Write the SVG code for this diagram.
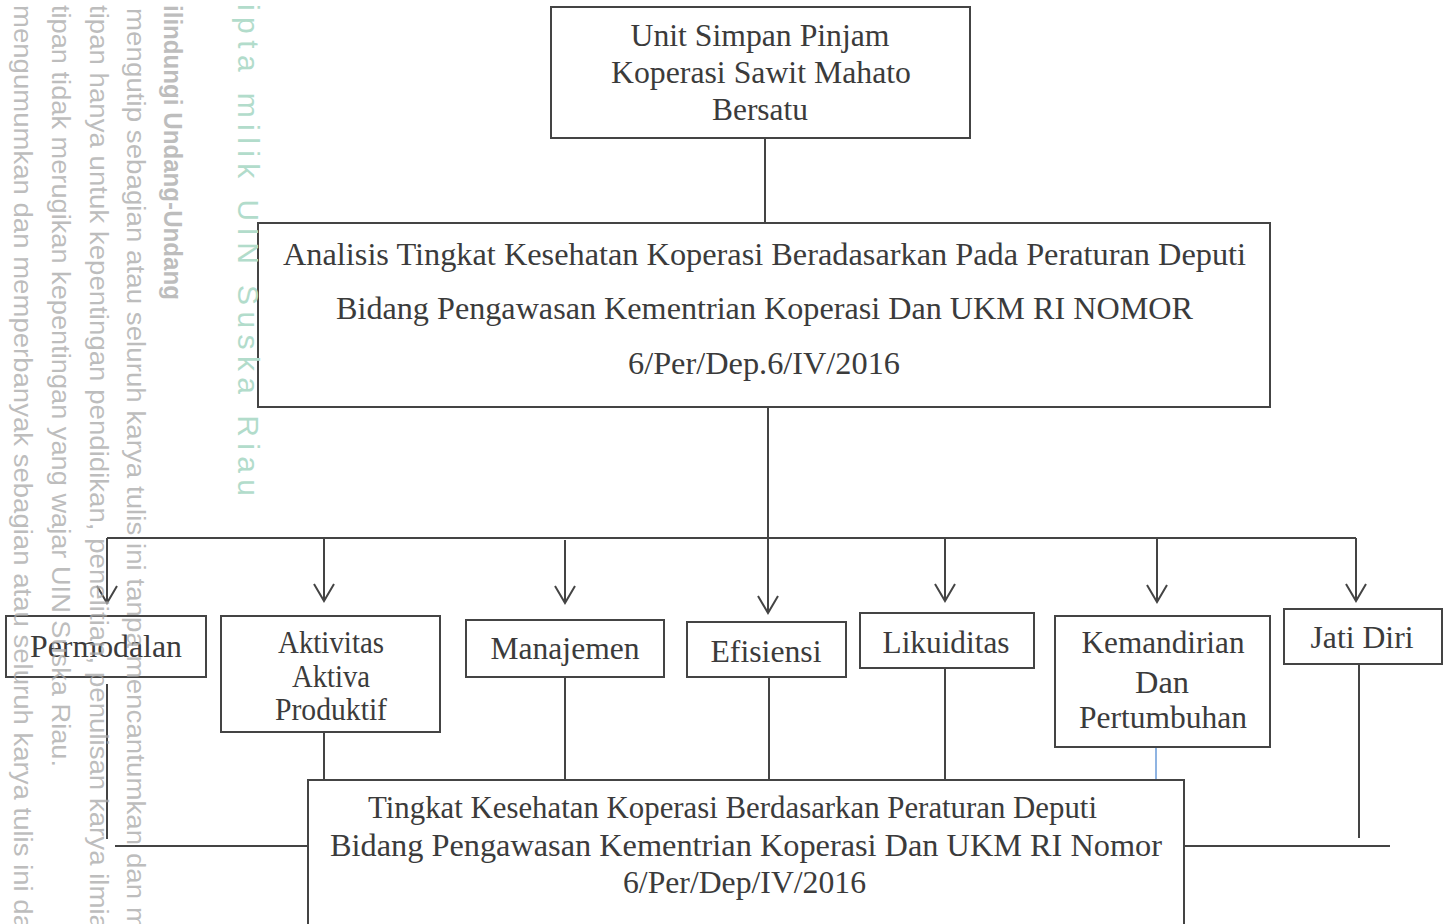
<svg xmlns="http://www.w3.org/2000/svg" width="1450" height="924" viewBox="0 0 1450 924">
<defs>
<style>
.box{fill:#ffffff;stroke:#444444;stroke-width:2}
.t{font-family:"Liberation Serif","Times New Roman",serif;font-size:31px;fill:#3b3b3b;text-anchor:middle}
.ln{fill:none;stroke:#444444;stroke-width:2}
.wm{font-family:"Liberation Sans",Arial,sans-serif;font-size:25px;fill:#a8a8a8;fill-opacity:0.75}
.wg{font-family:"Liberation Sans",Arial,sans-serif;font-size:30px;fill:#b2dccb;letter-spacing:6.4px}
</style>
<marker id="v" markerUnits="userSpaceOnUse" markerWidth="30" markerHeight="30" viewBox="-20 -15 30 30" refX="0" refY="0" orient="auto" overflow="visible">
<path d="M-17,-10 L0,0 L-17,10" fill="none" stroke="#444444" stroke-width="2"/>
</marker>
</defs>
<rect x="0" y="0" width="1450" height="924" fill="#ffffff"/>
<g id="connectors">
<path class="ln" d="M765,138 V223"/>
<path class="ln" d="M768,407 V613" marker-end="url(#v)"/>
<path class="ln" d="M107,538 H1356"/>
<path class="ln" d="M107,538 V603" marker-end="url(#v)"/>
<path class="ln" d="M324,538 V601" marker-end="url(#v)"/>
<path class="ln" d="M565,540 V603" marker-end="url(#v)"/>
<path class="ln" d="M945,538 V601" marker-end="url(#v)"/>
<path class="ln" d="M1157,538 V602" marker-end="url(#v)"/>
<path class="ln" d="M1356,538 V601" marker-end="url(#v)"/>
<path class="ln" d="M107,684 V839"/>
<path class="ln" d="M115,846 H308"/>
<path class="ln" d="M324,732 V780"/>
<path class="ln" d="M565,677 V780"/>
<path class="ln" d="M769,677 V780"/>
<path class="ln" d="M945,668 V780"/>
<path d="M1156,748 V780" fill="none" stroke="#6a9bd8" stroke-width="1.5"/>
<path class="ln" d="M1359,664 V838"/>
<path class="ln" d="M1184,846 H1390"/>
</g>
<g id="node-usp">
<rect class="box" x="551" y="7" width="419" height="131"/>
<text class="t" x="760" y="46" textLength="259" lengthAdjust="spacingAndGlyphs">Unit Simpan Pinjam</text>
<text class="t" x="761" y="83" textLength="300" lengthAdjust="spacingAndGlyphs">Koperasi Sawit Mahato</text>
<text class="t" x="760" y="120" textLength="96" lengthAdjust="spacingAndGlyphs">Bersatu</text>
</g>
<g id="node-analisis">
<rect class="box" x="258" y="223" width="1012" height="184"/>
<text class="t" x="764.5" y="265" textLength="963" lengthAdjust="spacingAndGlyphs">Analisis Tingkat Kesehatan Koperasi Beradasarkan Pada Peraturan Deputi</text>
<text class="t" x="764.5" y="319" textLength="857" lengthAdjust="spacingAndGlyphs">Bidang Pengawasan Kementrian Koperasi Dan UKM RI NOMOR</text>
<text class="t" x="764" y="374" textLength="272" lengthAdjust="spacingAndGlyphs">6/Per/Dep.6/IV/2016</text>
</g>
<g id="node-permodalan">
<rect class="box" x="6" y="616" width="200" height="61"/>
<text class="t" x="106" y="657" textLength="152" lengthAdjust="spacingAndGlyphs">Permodalan</text>
</g>
<g id="node-aktivitas">
<rect class="box" x="221" y="616" width="219" height="116"/>
<text class="t" x="331" y="653" textLength="106" lengthAdjust="spacingAndGlyphs">Aktivitas</text>
<text class="t" x="331" y="687" textLength="78" lengthAdjust="spacingAndGlyphs">Aktiva</text>
<text class="t" x="331" y="720" textLength="112" lengthAdjust="spacingAndGlyphs">Produktif</text>
</g>
<g id="node-manajemen">
<rect class="box" x="466" y="620" width="198" height="57"/>
<text class="t" x="565" y="659" textLength="149" lengthAdjust="spacingAndGlyphs">Manajemen</text>
</g>
<g id="node-efisiensi">
<rect class="box" x="687" y="622" width="159" height="55"/>
<text class="t" x="766" y="662" textLength="111" lengthAdjust="spacingAndGlyphs">Efisiensi</text>
</g>
<g id="node-likuiditas">
<rect class="box" x="860" y="613" width="174" height="55"/>
<text class="t" x="946" y="653" textLength="127" lengthAdjust="spacingAndGlyphs">Likuiditas</text>
</g>
<g id="node-kemandirian">
<rect class="box" x="1055" y="616" width="215" height="131"/>
<text class="t" x="1163" y="653" textLength="163" lengthAdjust="spacingAndGlyphs">Kemandirian</text>
<text class="t" x="1162" y="693" textLength="54" lengthAdjust="spacingAndGlyphs">Dan</text>
<text class="t" x="1163" y="728" textLength="168" lengthAdjust="spacingAndGlyphs">Pertumbuhan</text>
</g>
<g id="node-jatidiri">
<rect class="box" x="1284" y="609" width="158" height="55"/>
<text class="t" x="1362" y="648" textLength="103" lengthAdjust="spacingAndGlyphs">Jati Diri</text>
</g>
<g id="node-tingkat">
<rect class="box" x="308" y="780" width="876" height="170"/>
<text class="t" x="732.5" y="818" textLength="729" lengthAdjust="spacingAndGlyphs">Tingkat Kesehatan Koperasi Berdasarkan Peraturan Deputi</text>
<text class="t" x="746" y="856" textLength="832" lengthAdjust="spacingAndGlyphs">Bidang Pengawasan Kementrian Koperasi Dan UKM RI  Nomor</text>
<text class="t" x="744.5" y="893" textLength="243" lengthAdjust="spacingAndGlyphs">6/Per/Dep/IV/2016</text>
</g>
<g id="watermark">
<text class="wm" transform="translate(14,5) rotate(90)" textLength="925" lengthAdjust="spacingAndGlyphs">mengumumkan dan memperbanyak sebagian atau seluruh karya tulis ini da</text>
<text class="wm" transform="translate(52,5) rotate(90)" textLength="762" lengthAdjust="spacingAndGlyphs">tipan tidak merugikan kepentingan yang wajar UIN Suska Riau.</text>
<text class="wm" transform="translate(90,5) rotate(90)" textLength="925" lengthAdjust="spacingAndGlyphs">tipan hanya untuk kepentingan pendidikan, penelitian, penulisan karya ilmia</text>
<text class="wm" transform="translate(127,8) rotate(90)" textLength="922" lengthAdjust="spacingAndGlyphs">mengutip sebagian atau seluruh karya tulis ini tanpa mencantumkan dan m</text>
<text class="wm" transform="translate(164,5) rotate(90)" font-weight="bold" textLength="295" lengthAdjust="spacingAndGlyphs">ilindungi Undang-Undang</text>
<text class="wg" transform="translate(238,4) rotate(90)">ipta milik UIN Suska Riau</text>
</g>
</svg>
